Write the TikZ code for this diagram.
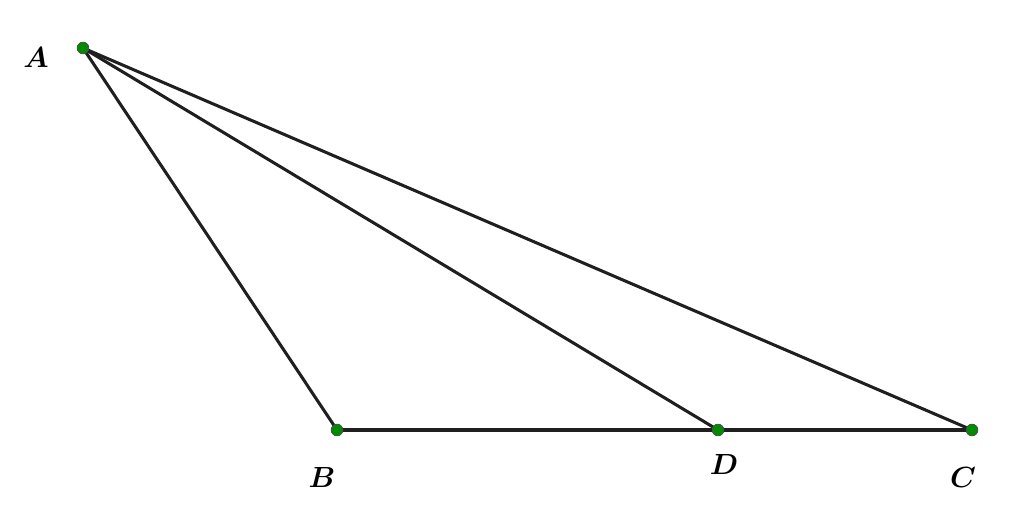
\documentclass[tikz,border=0pt]{standalone}
\usepackage{bm}
\begin{document}
\begin{tikzpicture}[x=0.03cm,y=-0.03cm,
  seg/.style={line width=2.6pt,black!88},
  pt/.style={circle,fill=green!55!black,draw=black!70,line width=0.6pt,inner sep=0pt,minimum size=10pt},
  lbl/.style={font=\fontsize{25}{29}\selectfont}]
\useasboundingbox (0,0) rectangle (1024,516);
\coordinate (A) at (83,48);
\coordinate (B) at (337,430);
\coordinate (D) at (718,430);
\coordinate (C) at (972,430);
\draw[seg] (A) -- (B);
\draw[seg] (A) -- (D);
\draw[seg] (A) -- (C);
\draw[seg] (B) -- (C);
\node[pt] (pA) at (A) {};
\node[pt] (pB) at (B) {};
\node[pt] (pD) at (D) {};
\node[pt] (pC) at (C) {};
\node[lbl] (lA) at (36,58) {$\bm{A}$};
\node[lbl] (lB) at (322,478) {$\bm{B}$};
\node[lbl] (lD) at (724,465) {$\bm{D}$};
\node[lbl] (lC) at (963,478) {$\bm{C}$};
\end{tikzpicture}
\end{document}
